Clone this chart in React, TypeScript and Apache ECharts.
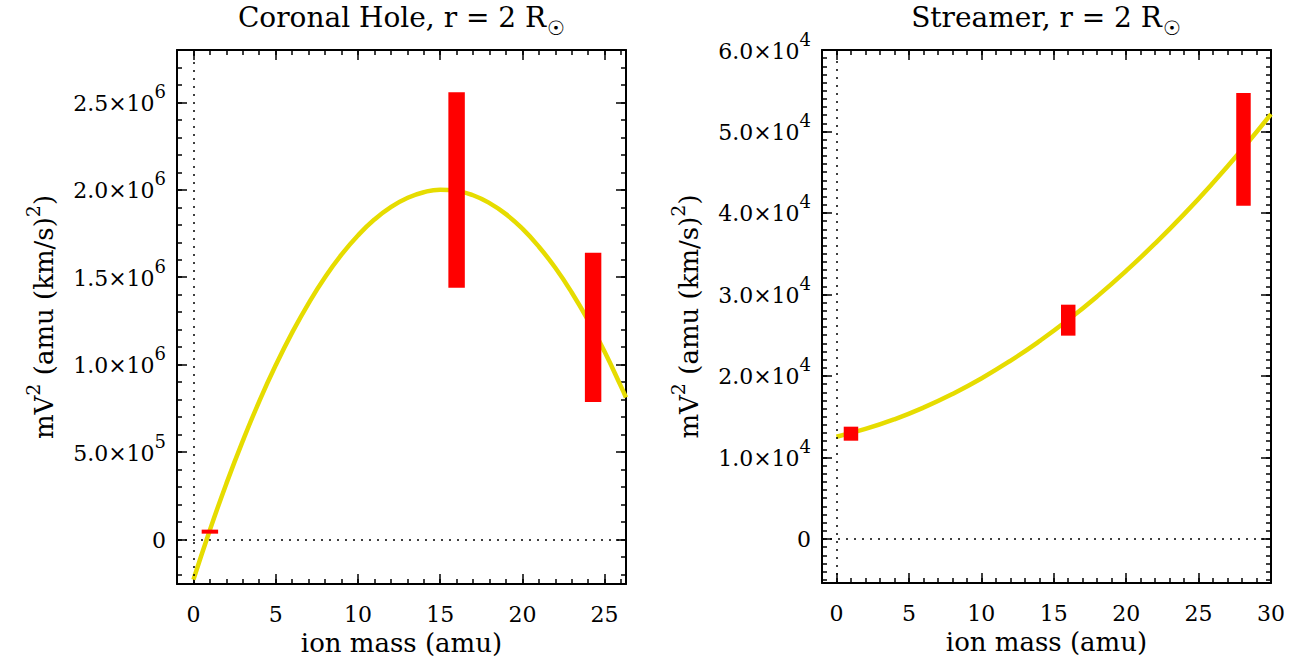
import React, { useEffect, useRef } from "react";
import * as echarts from "echarts";

// ---------- data ----------
const LEFT_CURVE_X = [0, 1, 2, 3, 4, 5, 6, 7, 8, 9, 10, 11, 12, 13, 14, 15, 16, 17, 18, 19, 20, 21, 22, 23, 24, 25, 26, 26.3];
const LEFT_CURVE_Y = [-230000, 54000, 319000, 564000, 790000, 996000, 1183000, 1351000, 1500000, 1629000, 1739000, 1830000, 1901000, 1953000, 1986000, 2000000, 1994000, 1969000, 1924000, 1861000, 1778000, 1675000, 1554000, 1413000, 1253000, 1073000, 874000, 812000];

const RIGHT_CURVE_X = [0, 2, 4, 6, 8, 10, 12, 14, 16, 18, 20, 22, 24, 26, 28, 30];
const RIGHT_CURVE_Y = [12550, 13500, 14690, 16120, 17790, 19700, 21860, 24260, 26890, 29770, 32900, 36260, 39860, 43710, 47800, 52130];

// ion mass, lower, upper
const LEFT_IONS = [1, 16, 24.3];
const LEFT_LOW = [33000, 1440000, 786000];
const LEFT_HIGH = [56000, 2558000, 1640000];

const RIGHT_IONS = [1, 16, 28.1];
const RIGHT_LOW = [12060, 24950, 40900];
const RIGHT_HIGH = [13780, 28750, 54720];

const LEFT_X_TICKS = [0, 5, 10, 15, 20, 25];
const RIGHT_X_TICKS = [0, 5, 10, 15, 20, 25, 30];
const LEFT_Y_TICKS = [0, 500000, 1000000, 1500000, 2000000, 2500000];
const LEFT_Y_LABELS = ["0", "5.0×10^5", "1.0×10^6", "1.5×10^6", "2.0×10^6", "2.5×10^6"];
const RIGHT_Y_TICKS = [0, 10000, 20000, 30000, 40000, 50000, 60000];
const RIGHT_Y_LABELS = ["0", "1.0×10^4", "2.0×10^4", "3.0×10^4", "4.0×10^4", "5.0×10^4", "6.0×10^4"];

const TITLES = ["Coronal Hole, r = 2 R", "Streamer, r = 2 R"];
const X_NAME = "ion mass (amu)";

// ---------- style ----------
const FONT = "'DejaVu Serif', serif";
const CURVE_COLOR = "#e6dc00";
const BAR_COLOR = "#ff0000";

function range(a: number, b: number, step: number) {
  const out: number[] = [];
  for (let v = a; v <= b + step * 1e-6; v += step) out.push(Math.round(v / step) * step);
  return out;
}

const richBase = {
  m: { fontFamily: FONT, fontSize: 22, color: "#000", verticalAlign: "bottom", lineHeight: 24 },
  e: { fontFamily: FONT, fontSize: 18, color: "#000", verticalAlign: "bottom", lineHeight: 18, padding: [0, 0, 14, 0] },
};

function supFmt(s: string) {
  const parts = s.split("^");
  if (parts.length === 1) return "{m|" + s + "}";
  return "{m|" + parts[0] + "}{e|" + parts[1] + "}";
}

function makeAxes(
  dim: "x" | "y",
  grid: number,
  min: number,
  max: number,
  major: number[],
  minor: number[],
  labels: string[] | null
) {
  const sides = dim === "x" ? ["bottom", "top"] : ["left", "right"];
  const axes: any[] = [];
  sides.forEach((pos, si) => {
    const isMain = si === 0;
    const majorAxis: any = {
      type: "value",
      gridIndex: grid,
      position: pos,
      min,
      max,
      splitLine: { show: false },
      axisLine: { show: true, onZero: false, lineStyle: { color: "#000", width: 2 } },
      axisTick: { show: true, inside: true, length: 10, customValues: major, lineStyle: { color: "#000", width: 1.5 } },
      axisLabel: { show: false },
    };
    if (isMain) {
      if (dim === "x") {
        majorAxis.axisLabel = {
          show: true,
          customValues: major,
          margin: 19,
          fontFamily: FONT,
          fontSize: 22,
          color: "#000",
          formatter: (v: number) => String(v),
        };
        majorAxis.name = X_NAME;
        majorAxis.nameLocation = "middle";
        majorAxis.nameGap = 46;
        majorAxis.nameTextStyle = { fontFamily: FONT, fontSize: 26, color: "#000" };
      } else {
        majorAxis.axisLabel = {
          show: true,
          customValues: major,
          margin: 11,
          formatter: (v: number) => {
            const i = major.indexOf(v);
            return supFmt(i >= 0 && labels ? labels[i] : String(v));
          },
          rich: richBase,
        };
        majorAxis.name = "{n|mV}{s|2}{n| (amu (km/s)}{s|2}{n|)}";
        majorAxis.nameLocation = "middle";
        majorAxis.nameRotate = 90;
        majorAxis.nameGap = 120;
        majorAxis.nameTextStyle = {
          rich: {
            n: { fontFamily: FONT, fontSize: 26, color: "#000", verticalAlign: "bottom", lineHeight: 28 },
            s: { fontFamily: FONT, fontSize: 19, color: "#000", verticalAlign: "bottom", lineHeight: 19, padding: [0, 0, 15, 0] },
          },
        };
      }
    }
    const minorAxis: any = {
      type: "value",
      gridIndex: grid,
      position: pos,
      min,
      max,
      splitLine: { show: false },
      axisLine: { show: false, onZero: false },
      axisTick: { show: true, inside: true, length: 5, customValues: minor, lineStyle: { color: "#000", width: 1.5 } },
      axisLabel: { show: false },
    };
    axes.push(majorAxis, minorAxis);
  });
  return axes;
}

const renderBar = (params: any, api: any) => {
  const x = api.value(0);
  const lo = api.value(1);
  const hi = api.value(2);
  const p1 = api.coord([x - 0.5, hi]);
  const p2 = api.coord([x + 0.5, lo]);
  return {
    type: "rect",
    shape: { x: p1[0], y: p1[1], width: p2[0] - p1[0], height: p2[1] - p1[1] },
    style: { fill: BAR_COLOR },
  };
};

const zeroLines = {
  silent: true,
  symbol: "none",
  label: { show: false },
  lineStyle: { color: "#000", type: [2, 6], width: 1.5 },
  data: [{ xAxis: 0 }, { yAxis: 0 }],
};

export default function App() {
  const ref = useRef<HTMLDivElement>(null);
  useEffect(() => {
    if (!ref.current) return;
    const chart = echarts.init(ref.current, null, { renderer: "svg" });

    const LX = [-1, 26.3];
    const LY = [-255000, 2800000];
    const RX = [-1, 30];
    const RY = [-5400, 60000];

    const xAxes = [
      ...makeAxes("x", 0, LX[0], LX[1], LEFT_X_TICKS, range(-1, 26, 1), null),
      ...makeAxes("x", 1, RX[0], RX[1], RIGHT_X_TICKS, range(-1, 30, 1), null),
    ];
    const yAxes = [
      ...makeAxes("y", 0, LY[0], LY[1], LEFT_Y_TICKS, range(-200000, 2800000, 100000), LEFT_Y_LABELS),
      ...makeAxes("y", 1, RY[0], RY[1], RIGHT_Y_TICKS, range(-5000, 60000, 1000), RIGHT_Y_LABELS),
    ];

    const option: any = {
      animation: false,
      backgroundColor: "#fff",
      grid: [
        { left: 177, top: 50, width: 449, height: 534, outerBoundsMode: "none", containLabel: false },
        { left: 822, top: 50, width: 449, height: 533, outerBoundsMode: "none", containLabel: false },
      ],
      xAxis: xAxes,
      yAxis: yAxes,
      graphic: TITLES.map((t, i) => ({
        type: "text",
        x: i === 0 ? 401.5 : 1046,
        y: 3,
        style: {
          text: "{t|" + t + "}{s|☉}",
          align: "center",
          verticalAlign: "top",
          rich: {
            t: { fontFamily: FONT, fontSize: 28, fill: "#000", color: "#000", verticalAlign: "top", lineHeight: 34 },
            s: { fontFamily: FONT, fontSize: 20, fill: "#000", color: "#000", verticalAlign: "top", lineHeight: 20, padding: [15, 0, 0, 1] },
          },
        },
      })),
      series: [
        {
          type: "line",
          xAxisIndex: 0,
          yAxisIndex: 0,
          data: LEFT_CURVE_X.map((x, i) => [x, LEFT_CURVE_Y[i]]),
          smooth: true,
          showSymbol: false,
          lineStyle: { color: CURVE_COLOR, width: 4.5 },
          z: 2,
          markLine: zeroLines,
        },
        {
          type: "custom",
          xAxisIndex: 0,
          yAxisIndex: 0,
          renderItem: renderBar,
          data: LEFT_IONS.map((x, i) => [x, LEFT_LOW[i], LEFT_HIGH[i]]),
          z: 5,
        },
        {
          type: "line",
          xAxisIndex: 4,
          yAxisIndex: 4,
          data: RIGHT_CURVE_X.map((x, i) => [x, RIGHT_CURVE_Y[i]]),
          smooth: true,
          showSymbol: false,
          lineStyle: { color: CURVE_COLOR, width: 4.5 },
          z: 2,
          markLine: zeroLines,
        },
        {
          type: "custom",
          xAxisIndex: 4,
          yAxisIndex: 4,
          renderItem: renderBar,
          data: RIGHT_IONS.map((x, i) => [x, RIGHT_LOW[i], RIGHT_HIGH[i]]),
          z: 5,
        },
      ],
    };
    chart.setOption(option);
    return () => chart.dispose();
  }, []);
  return <div ref={ref} style={{ position: "absolute", left: 0, top: 0, width: 1295, height: 657 }} />;
}
